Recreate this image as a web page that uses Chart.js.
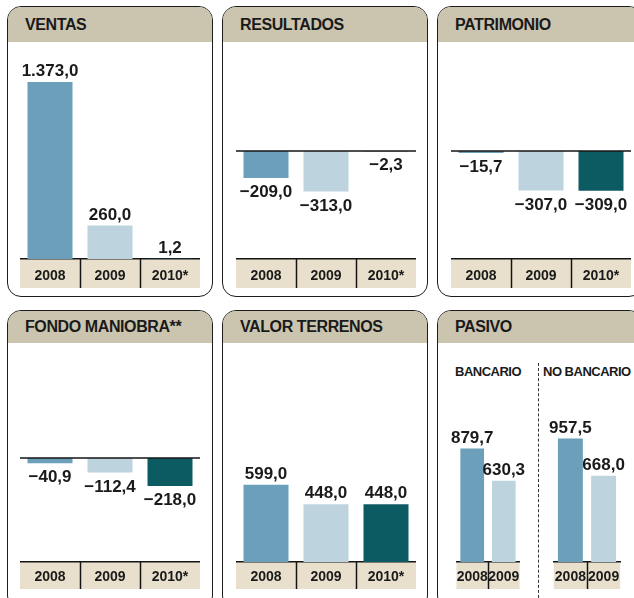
<!DOCTYPE html>
<html lang="es">
<head>
<meta charset="UTF-8" />
<title>Ventas, resultados, patrimonio</title>
<script src="https://cdn.jsdelivr.net/npm/chart.js"></script>
<style>
  body { margin: 0; width: 634px; height: 598px; overflow: hidden; background: #fff;
         font-family: "Liberation Sans", Arial, sans-serif; position: relative; }
  .panel { position: absolute; width: 206px; border: 1.5px solid #1c1c1c; border-radius: 14px;
           background: #fff; overflow: hidden; box-sizing: border-box; }
  .panel .title { height: 35px; background: #cbc5b0; font-weight: bold; font-size: 16px;
                  line-height: 35px; padding-left: 17px; color: #1a1a1a; letter-spacing: -0.4px;
                  white-space: nowrap; }
  .row1 { top: 6px; height: 291px; }
  .row2 { top: 310px; height: 300px; }
  .row2 .title { height: 32px; line-height: 32px; }
  canvas { position: absolute; }
  .sub { position: absolute; font-weight: bold; font-size: 13px; color: #1a1a1a;
         letter-spacing: -0.5px; white-space: nowrap; }
  .dots { position: absolute; left: 538px; top: 363px; height: 240px; border-left: 1px dashed #333; }
</style>
</head>
<body>
<div class="panel row1" style="left:7px"><div class="title">VENTAS</div></div>
<div class="panel row1" style="left:222px"><div class="title">RESULTADOS</div></div>
<div class="panel row1" style="left:437px"><div class="title">PATRIMONIO</div></div>
<div class="panel row2" style="left:7px"><div class="title">FONDO MANIOBRA**</div></div>
<div class="panel row2" style="left:222px"><div class="title">VALOR TERRENOS</div></div>
<div class="panel row2" style="left:437px"><div class="title">PASIVO</div></div>
<div class="sub" style="left:455px; top:364px">BANCARIO</div>
<div class="sub" style="left:543px; top:364px">NO BANCARIO</div>
<div class="dots"></div>

<canvas id="ventas" width="180" height="246" style="left:20px; top:42px"></canvas>
<canvas id="resultados" width="180" height="246" style="left:236px; top:42px"></canvas>
<canvas id="patrimonio" width="180" height="246" style="left:451px; top:42px"></canvas>
<canvas id="fondo" width="180" height="246" style="left:20px; top:343px"></canvas>
<canvas id="terrenos" width="180" height="246" style="left:236px; top:343px"></canvas>
<canvas id="bancario" width="74" height="246" style="left:451px; top:343px"></canvas>
<canvas id="noBancario" width="76" height="246" style="left:549px; top:343px"></canvas>

<script>
  // datos (millones de euros)
  const years = ["2008", "2009", "2010*"];
  const ventas = [1373.0, 260.0, 1.2];
  const resultados = [-209.0, -313.0, -2.3];
  const patrimonio = [-15.7, -307.0, -309.0];
  const fondoManiobra = [-40.9, -112.4, -218.0];
  const valorTerrenos = [599.0, 448.0, 448.0];
  const pasivoYears = ["2008", "2009"];
  const pasivoBancario = [879.7, 630.3];
  const pasivoNoBancario = [957.5, 668.0];

  const yearColors = ["#6b9fba", "#bdd4df", "#0c5a62"];
  const PX_PER_UNIT = 0.129; // misma escala en todos los paneles
  const ink = "#1a1a1a";
  const fontFamily = '"Liberation Sans", Arial, sans-serif';

  function fmt(v) {
    const parts = Math.abs(v).toFixed(1).split(".");
    const ent = parts[0].replace(/\B(?=(\d{3})+(?!\d))/g, ".");
    return (v < 0 ? "\u2212" : "") + ent + "," + parts[1];
  }

  const panelPlugin = {
    id: "panel",
    beforeDraw(chart) {
      const { ctx, chartArea } = chart;
      const x = chart.scales.x;
      ctx.save();
      ctx.fillStyle = "#e8e0cc";
      ctx.fillRect(chartArea.left, x.top, chartArea.right - chartArea.left, x.bottom - x.top);
      ctx.restore();
    },
    afterDraw(chart) {
      const { ctx, chartArea } = chart;
      const x = chart.scales.x;
      const y = chart.scales.y;
      ctx.save();
      ctx.strokeStyle = "#151515";
      ctx.lineWidth = 1.5;
      const n = chart.data.labels.length;
      const w = (chartArea.right - chartArea.left) / n;
      for (let i = 1; i < n; i++) {
        const px = Math.round(chartArea.left + w * i) + 0.5;
        ctx.beginPath();
        ctx.moveTo(px, x.top);
        ctx.lineTo(px, x.bottom);
        ctx.stroke();
      }
      if (y.min < 0) {
        const zy = y.getPixelForValue(0);
        ctx.beginPath();
        ctx.moveTo(chartArea.left, zy);
        ctx.lineTo(chartArea.right, zy);
        ctx.stroke();
      }
      ctx.restore();
    },
    afterDatasetsDraw(chart) {
      const { ctx } = chart;
      const meta = chart.getDatasetMeta(0);
      const values = chart.data.datasets[0].data;
      ctx.save();
      ctx.fillStyle = ink;
      ctx.font = "bold 17px " + fontFamily;
      ctx.textAlign = "center";
      meta.data.forEach((bar, i) => {
        const v = values[i];
        if (v >= 0) {
          ctx.textBaseline = "bottom";
          ctx.fillText(fmt(v), bar.x, bar.y - 2);
        } else {
          ctx.textBaseline = "top";
          ctx.fillText(fmt(v), bar.x, bar.y + 6);
        }
      });
      ctx.restore();
    }
  };

  function drawPanel(id, labels, values, zeroFromTop, bandHeight, tickPad) {
    const canvas = document.getElementById(id);
    const areaH = canvas.height - bandHeight;
    new Chart(canvas, {
      type: "bar",
      data: {
        labels: labels,
        datasets: [{
          data: values,
          backgroundColor: yearColors.slice(0, labels.length),
          borderWidth: 0,
          categoryPercentage: 1,
          barPercentage: 0.75
        }]
      },
      options: {
        responsive: false,
        animation: false,
        layout: { padding: 0 },
        plugins: { legend: { display: false }, tooltip: { enabled: false } },
        scales: {
          x: {
            grid: { display: false, drawTicks: false },
            border: { display: true, color: "#151515", width: 1.5 },
            ticks: { color: ink, font: { family: fontFamily, weight: "bold", size: 14 }, padding: tickPad,
                     maxRotation: 0, autoSkip: false },
            afterFit(scale) { scale.height = bandHeight; }
          },
          y: {
            display: false,
            min: -(areaH - zeroFromTop) / PX_PER_UNIT,
            max: zeroFromTop / PX_PER_UNIT
          }
        }
      },
      plugins: [panelPlugin]
    });
  }

  drawPanel("ventas", years, ventas, 217, 29, 9);
  drawPanel("resultados", years, resultados, 109, 29, 9);
  drawPanel("patrimonio", years, patrimonio, 109, 29, 9);
  drawPanel("fondo", years, fondoManiobra, 115, 27, 7);
  drawPanel("terrenos", years, valorTerrenos, 219, 27, 7);
  drawPanel("bancario", pasivoYears, pasivoBancario, 219, 27, 7);
  drawPanel("noBancario", pasivoYears, pasivoNoBancario, 219, 27, 7);
</script>
</body>
</html>
